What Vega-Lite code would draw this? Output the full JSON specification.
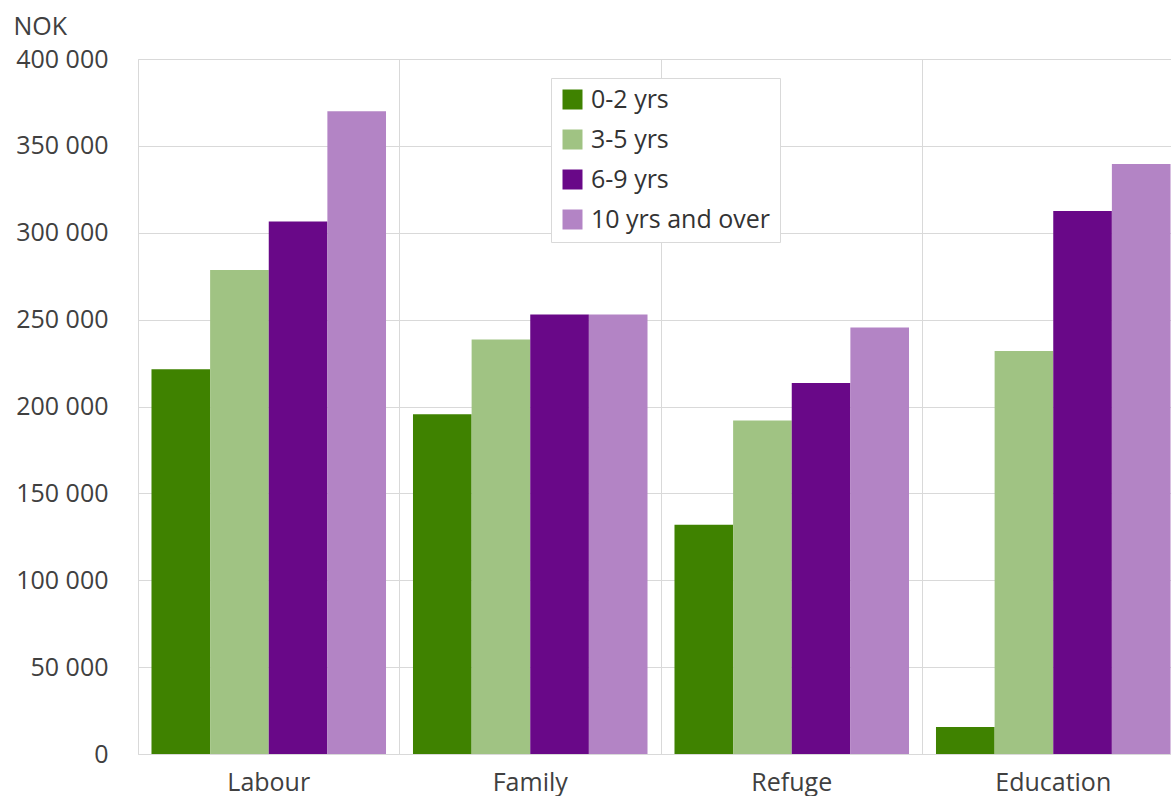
{
  "$schema": "https://vega.github.io/schema/vega-lite/v6.json",
  "width": 1046,
  "height": 695,
  "autosize": {"type": "none"},
  "padding": {"left": 138, "top": 59, "right": 0, "bottom": 42},
  "background": "white",
  "config": {
    "font": "Open Sans",
    "view": {"stroke": null},
    "axis": {"gridColor": "#d9d9d9", "gridWidth": 1, "domainColor": "#d9d9d9", "ticks": false, "labelColor": "#404040", "labelFontSize": 25, "labelFont": "Open Sans", "labelOverlap": false}
  },
  "data": {
    "values": [
      {"category": "Labour", "group": "0-2 yrs", "value": 221500},
      {"category": "Labour", "group": "3-5 yrs", "value": 278500},
      {"category": "Labour", "group": "6-9 yrs", "value": 306500},
      {"category": "Labour", "group": "10 yrs and over", "value": 370000},
      {"category": "Family", "group": "0-2 yrs", "value": 195500},
      {"category": "Family", "group": "3-5 yrs", "value": 238500},
      {"category": "Family", "group": "6-9 yrs", "value": 253000},
      {"category": "Family", "group": "10 yrs and over", "value": 253000},
      {"category": "Refuge", "group": "0-2 yrs", "value": 132000},
      {"category": "Refuge", "group": "3-5 yrs", "value": 192000},
      {"category": "Refuge", "group": "6-9 yrs", "value": 213500},
      {"category": "Refuge", "group": "10 yrs and over", "value": 245500},
      {"category": "Education", "group": "0-2 yrs", "value": 15500},
      {"category": "Education", "group": "3-5 yrs", "value": 232000},
      {"category": "Education", "group": "6-9 yrs", "value": 312500},
      {"category": "Education", "group": "10 yrs and over", "value": 339500}
    ]
  },
  "mark": {"type": "bar", "clip": true},
  "encoding": {
    "x": {
      "field": "category",
      "type": "nominal",
      "sort": ["Labour", "Family", "Refuge", "Education"],
      "scale": {"paddingInner": 0, "paddingOuter": 0},
      "axis": {
        "title": null,
        "labelAngle": 0,
        "labelPadding": 16,
        "grid": true,
        "bandPosition": 0,
        "domain": true
      }
    },
    "xOffset": {
      "field": "group",
      "type": "nominal",
      "sort": ["0-2 yrs", "3-5 yrs", "6-9 yrs", "10 yrs and over"],
      "scale": {"paddingInner": 0, "paddingOuter": 0.23}
    },
    "y": {
      "field": "value",
      "type": "quantitative",
      "scale": {"domain": [0, 400000]},
      "axis": {
        "title": "NOK",
        "titleAngle": 0,
        "titleAlign": "left",
        "titleBaseline": "alphabetic",
        "titleX": -125,
        "titleY": -25,
        "titleFontSize": 25,
        "titleFontWeight": "normal",
        "titleColor": "#404040",
        "titleFont": "Open Sans",
        "values": [0, 50000, 100000, 150000, 200000, 250000, 300000, 350000, 400000],
        "labelPadding": 30,
        "labelExpr": "replace(format(datum.value, ','), ',', ' ')",
        "domain": true
      }
    },
    "color": {
      "field": "group",
      "type": "nominal",
      "sort": ["0-2 yrs", "3-5 yrs", "6-9 yrs", "10 yrs and over"],
      "scale": {"range": ["#3f8200", "#a0c383", "#690888", "#b384c5"]},
      "legend": {
        "title": null,
        "orient": "none",
        "legendX": 413,
        "legendY": 19,
        "symbolType": "square",
        "symbolSize": 400,
        "symbolStrokeWidth": 0,
        "labelFontSize": 25,
        "labelLimit": 400,
        "labelColor": "#333333",
        "labelFont": "Open Sans",
        "rowPadding": 14,
        "labelOffset": 6,
        "padding": 9,
        "strokeColor": "#d9d9d9",
        "fillColor": "white"
      }
    }
  }
}
